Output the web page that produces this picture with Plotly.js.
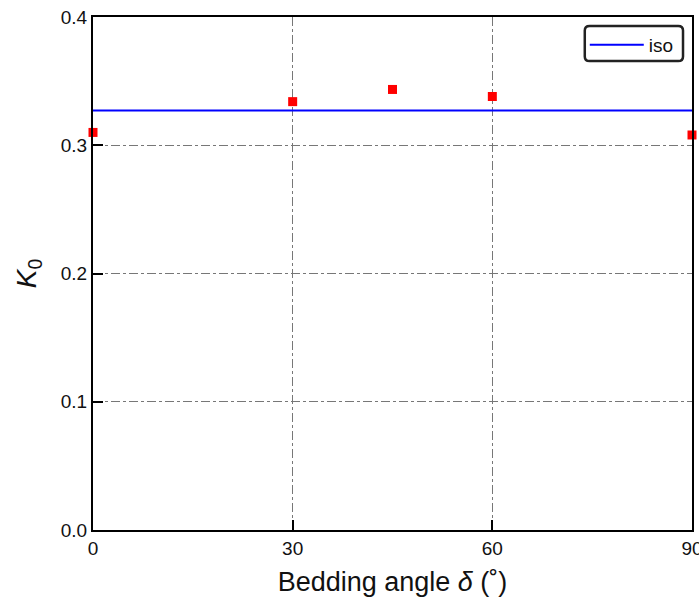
<!DOCTYPE html>
<html>
<head>
<meta charset="utf-8">
<script src="https://cdn.plot.ly/plotly-3.0.1.min.js"></script>
<style>html,body{margin:0;padding:0;background:#fff;}#chart{width:699px;height:600px;}</style>
</head>
<body>
<div id="chart"></div>
<script>
const angles = [0, 30, 45, 60, 90];
const k0Values = [0.310, 0.334, 0.3435, 0.338, 0.308];
const isoX = [0, 90];
const isoY = [0.327, 0.327];
const xTicks = [0, 30, 60, 90];
const yTicks = [0.0, 0.1, 0.2, 0.3, 0.4];
const yTickText = ['0.0', '0.1', '0.2', '0.3', '0.4'];

const FONT = 'Liberation Sans, Arial, sans-serif';

const traces = [
  {x: isoX, y: isoY, mode: 'lines', name: 'iso', line: {color: '#0000ff', width: 2}},
  {x: angles, y: k0Values, mode: 'markers', name: 'data', showlegend: false,
   marker: {symbol: 'square', size: 9, color: '#ff0000'}, cliponaxis: false}
];

const axisCommon = {
  showline: true, mirror: true, linecolor: '#000', linewidth: 2,
  ticks: 'inside', ticklen: 10, tickwidth: 2, tickcolor: '#000',
  showgrid: true, gridcolor: '#777', gridwidth: 1, griddash: 'dashdot',
  zeroline: false, automargin: false,
  tickfont: {family: FONT, size: 19, color: '#111'}
};

// rounded legend frame (paper coordinates)
const bx0 = 0.821, bx1 = 0.985, by0 = 0.914, by1 = 0.9825, rx = 0.008, ry = 0.009;
const framePath = `M ${bx0+rx} ${by1} L ${bx1-rx} ${by1} Q ${bx1} ${by1} ${bx1} ${by1-ry} L ${bx1} ${by0+ry} Q ${bx1} ${by0} ${bx1-rx} ${by0} L ${bx0+rx} ${by0} Q ${bx0} ${by0} ${bx0} ${by0+ry} L ${bx0} ${by1-ry} Q ${bx0} ${by1} ${bx0+rx} ${by1} Z`;

const layout = {
  width: 699, height: 600,
  margin: {l: 93, r: 7, t: 17, b: 70},
  paper_bgcolor: '#fff', plot_bgcolor: '#fff',
  showlegend: true,
  xaxis: Object.assign({}, axisCommon, {
    range: [0, 90], tickvals: xTicks, ticklabeloverflow: 'allow',
    title: {text: 'Bedding angle <i>δ</i> (˚)', font: {family: FONT, size: 27, color: '#111'}, standoff: 14}
  }),
  yaxis: Object.assign({}, axisCommon, {
    range: [0, 0.4], tickvals: yTicks, ticktext: yTickText,
    title: {text: '<i>K</i><sub>0</sub>', font: {family: FONT, size: 28, color: '#111'}, standoff: 16}
  }),
  shapes: [{type: 'path', xref: 'paper', yref: 'paper', path: framePath,
            line: {color: '#222', width: 2.5}, fillcolor: 'rgba(255,255,255,1)', layer: 'above'}],
  legend: {
    x: 0.821, y: 0.9825, xanchor: 'left', yanchor: 'top',
    bgcolor: 'rgba(0,0,0,0)', borderwidth: 0, itemwidth: 54,
    font: {family: FONT, size: 19, color: '#111'}
  }
};

Plotly.newPlot('chart', traces, layout, {displayModeBar: false, staticPlot: true});
</script>
</body>
</html>
